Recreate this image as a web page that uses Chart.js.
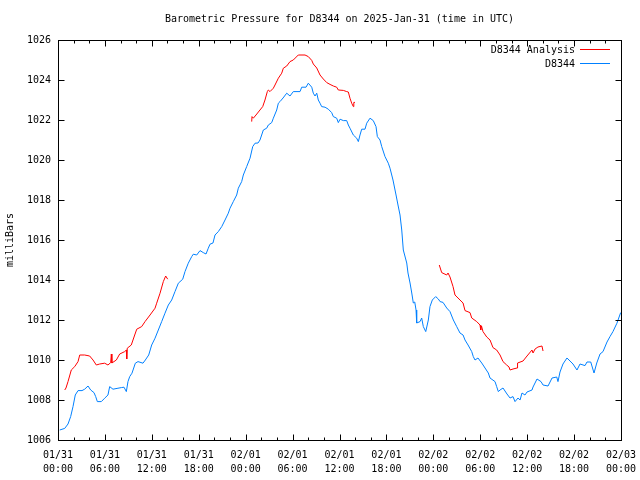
<!DOCTYPE html>
<html>
<head>
<meta charset="utf-8">
<script src="https://cdn.jsdelivr.net/npm/chart.js@4/dist/chart.umd.min.js"></script>
<style>
  html, body { margin: 0; padding: 0; background: #ffffff; }
  #wrap { width: 640px; height: 480px; position: relative; }
</style>
</head>
<body>
<div id="wrap"><canvas id="c" width="640" height="480"></canvas></div>
<script>
// ---------------- DATA (hours since 2025-01-31 00:00 UTC, pressure in mb) ----------------
const chartTitle = 'Barometric Pressure for D8344 on 2025-Jan-31 (time in UTC)';
const yAxisTitle = 'milliBars';
const seriesNames = ['D8344 Analysis', 'D8344'];

const xTickHours = [0, 6, 12, 18, 24, 30, 36, 42, 48, 54, 60, 66, 72];
const xTickDates = ['01/31','01/31','01/31','01/31','02/01','02/01','02/01','02/01','02/02','02/02','02/02','02/02','02/03'];
const xTickTimes = ['00:00','06:00','12:00','18:00','00:00','06:00','12:00','18:00','00:00','06:00','12:00','18:00','00:00'];
const yTickValues = [1006, 1008, 1010, 1012, 1014, 1016, 1018, 1020, 1022, 1024, 1026];

// D8344 observed
const obsHours = [0.22,0.86,1.28,1.62,1.92,2.21,2.56,3.07,3.41,3.84,4.18,4.60,4.82,5.03,5.54,5.97,6.39,6.61,7.03,7.55,8.10,8.44,8.74,8.95,9.17,9.46,9.89,10.23,10.87,11.17,11.60,11.98,12.41,12.83,13.26,13.68,14.11,14.54,14.96,15.39,15.95,16.24,16.66,17.10,17.30,17.74,18.16,18.58,18.93,19.22,19.44,19.82,20.08,20.50,20.94,21.36,21.78,22.00,22.42,22.85,23.06,23.49,23.70,24.13,24.56,24.90,25.20,25.58,25.83,26.26,26.69,26.90,27.33,27.54,27.97,28.18,28.39,28.78,29.25,29.67,30.09,30.95,31.17,31.72,32.01,32.45,32.65,32.87,33.09,33.29,33.51,33.72,34.15,34.57,35.00,35.21,35.64,35.85,36.07,36.49,36.92,37.13,37.34,37.77,38.20,38.41,38.62,38.84,39.26,39.48,39.90,40.32,40.67,40.84,41.18,41.40,41.82,42.24,42.46,42.84,43.23,43.48,43.74,43.96,44.16,44.60,44.76,45.02,45.24,45.44,45.62,45.79,45.87,46.30,46.51,46.72,47.03,47.36,47.57,47.87,48.30,48.64,48.86,49.24,49.71,50.13,50.56,50.99,51.41,51.80,52.05,52.44,52.91,53.11,53.33,53.71,54.19,54.61,55.03,55.25,55.89,56.10,56.31,56.53,56.91,57.42,57.81,58.19,58.45,58.83,59.09,59.34,59.72,59.98,60.62,60.75,61.26,61.77,62.03,62.67,63.18,63.78,63.94,64.20,64.58,65.09,65.48,65.86,66.37,66.76,67.40,67.65,68.13,68.55,68.90,69.32,69.70,70.21,70.59,70.97,71.48,71.96];
const obsMb = [1006.50,1006.58,1006.80,1007.17,1007.67,1008.25,1008.47,1008.47,1008.54,1008.70,1008.50,1008.37,1008.17,1007.92,1007.92,1008.09,1008.25,1008.67,1008.54,1008.58,1008.62,1008.64,1008.42,1008.92,1009.17,1009.34,1009.84,1009.92,1009.84,1010.00,1010.25,1010.75,1011.09,1011.50,1011.92,1012.34,1012.75,1013.00,1013.42,1013.84,1014.04,1014.42,1014.84,1015.17,1015.29,1015.25,1015.47,1015.37,1015.30,1015.59,1015.79,1015.85,1016.25,1016.42,1016.67,1017.00,1017.34,1017.59,1017.92,1018.25,1018.59,1018.92,1019.25,1019.67,1020.09,1020.67,1020.84,1020.85,1021.00,1021.50,1021.59,1021.75,1021.87,1022.09,1022.50,1022.84,1022.92,1023.10,1023.34,1023.20,1023.42,1023.42,1023.64,1023.64,1023.84,1023.64,1023.34,1023.20,1023.34,1023.00,1022.84,1022.67,1022.64,1022.54,1022.37,1022.17,1022.09,1021.87,1022.04,1021.97,1021.97,1021.75,1021.59,1021.25,1021.09,1020.92,1021.25,1021.54,1021.54,1021.84,1022.09,1021.97,1021.67,1021.17,1021.00,1020.67,1020.17,1019.84,1019.59,1019.00,1018.25,1017.75,1017.25,1016.50,1015.50,1014.85,1014.35,1013.85,1013.35,1012.85,1012.90,1012.50,1011.85,1011.92,1012.10,1011.67,1011.42,1012.00,1012.67,1013.00,1013.17,1013.05,1012.92,1012.88,1012.60,1012.42,1012.00,1011.67,1011.35,1011.25,1011.00,1010.75,1010.42,1010.17,1010.00,1010.10,1009.85,1009.60,1009.35,1009.10,1008.92,1008.67,1008.42,1008.50,1008.60,1008.30,1008.10,1008.17,1007.92,1008.10,1008.00,1008.35,1008.25,1008.40,1008.50,1008.65,1009.05,1008.92,1008.75,1008.70,1009.10,1009.15,1008.92,1009.40,1009.80,1010.10,1009.95,1009.80,1009.50,1009.80,1009.72,1009.90,1009.90,1009.35,1009.85,1010.30,1010.42,1010.90,1011.17,1011.42,1011.84,1012.37];

// D8344 Analysis (three separate runs)
const anaHours1 = [0.86,1.02,1.28,1.70,2.14,2.56,2.78,3.41,4.05,4.48,4.90,5.33,5.97,6.39,6.74,6.82,6.89,7.46,7.89,8.53,8.74,8.79,8.86,9.37,9.81,10.07,10.70,11.13,11.77,12.41,12.62,13.05,13.47,13.77,14.03];
const anaMb1 = [1008.50,1008.60,1008.92,1009.50,1009.67,1009.92,1010.25,1010.25,1010.20,1010.00,1009.75,1009.80,1009.84,1009.75,1009.87,1010.30,1009.85,1010.00,1010.30,1010.42,1010.50,1010.05,1010.59,1010.75,1011.25,1011.54,1011.67,1011.92,1012.25,1012.59,1012.84,1013.34,1013.92,1014.20,1014.04];
const anaHours2 = [24.77,24.81,24.98,25.32,25.83,26.18,26.47,26.77,26.90,27.11,27.54,27.75,28.18,28.61,28.82,29.25,29.67,30.09,30.73,31.59,32.01,32.45,32.65,33.09,33.51,33.93,34.37,34.79,35.21,35.64,35.85,36.49,36.92,37.13,37.34,37.56,37.77,37.83,37.98];
const anaMb2 = [1021.92,1022.17,1022.09,1022.25,1022.50,1022.67,1023.00,1023.42,1023.50,1023.42,1023.59,1023.75,1024.09,1024.34,1024.59,1024.70,1024.92,1025.00,1025.25,1025.25,1025.17,1024.98,1024.80,1024.60,1024.25,1024.05,1023.87,1023.78,1023.70,1023.64,1023.50,1023.48,1023.42,1023.40,1023.09,1022.84,1022.67,1022.88,1022.88];
const anaHours3 = [48.76,49.07,49.71,49.88,50.13,50.52,50.77,51.41,51.80,52.05,52.69,52.91,53.55,53.97,54.06,54.16,54.35,54.83,55.25,55.63,56.10,56.53,56.91,57.38,57.68,57.81,58.19,58.70,58.77,59.47,59.98,60.62,60.75,61.01,61.38,61.89,62.03];
const anaMb3 = [1014.75,1014.37,1014.25,1014.35,1014.15,1013.67,1013.25,1013.00,1012.85,1012.47,1012.37,1012.10,1011.92,1011.75,1011.50,1011.70,1011.42,1011.15,1011.00,1010.62,1010.50,1010.25,1009.92,1009.75,1009.65,1009.50,1009.55,1009.60,1009.85,1009.95,1010.20,1010.50,1010.35,1010.55,1010.65,1010.70,1010.45];

// ---------------- BUILD ----------------
const FONT = "'DejaVu Sans Mono', 'Liberation Mono', monospace";
const RED = '#ff0000';
const BLUE = 'rgb(0,128,255)';

function pts(h, v) { return h.map((x, i) => ({ x: x, y: v[i] })); }
function gap(x) { return [{ x: x, y: null }]; }

const analysisData = pts(anaHours1, anaMb1)
  .concat(gap(19), pts(anaHours2, anaMb2), gap(43), pts(anaHours3, anaMb3));
const obsData = pts(obsHours, obsMb);

const framePlugin = {
  id: 'gnuframe',
  afterDatasetsDraw(chart) {
    const ctx = chart.ctx;
    const a = chart.chartArea;
    const xs = chart.scales.x, ys = chart.scales.y;
    const L = Math.round(a.left) + 0.5, R = Math.round(a.right) + 0.5;
    const T = Math.round(a.top) + 0.5, B = Math.round(a.bottom) + 0.5;
    ctx.save();
    ctx.strokeStyle = '#000';
    ctx.lineWidth = 1;
    ctx.beginPath();
    // x ticks: major every 6 h, minor every 2 h, inward on bottom and top
    for (let h = 0; h <= 72; h += 2) {
      const px = Math.round(xs.getPixelForValue(h)) + 0.5;
      const len = (h % 6 === 0) ? 6 : 3;
      ctx.moveTo(px, B); ctx.lineTo(px, B - len);
      ctx.moveTo(px, T); ctx.lineTo(px, T + len);
    }
    yTickValues.forEach(v => {
      const py = Math.round(ys.getPixelForValue(v)) + 0.5;
      ctx.moveTo(L, py); ctx.lineTo(L + 6, py);
      ctx.moveTo(R, py); ctx.lineTo(R - 6, py);
    });
    ctx.stroke();
    ctx.strokeRect(L, T, R - L, B - T);

    // title
    ctx.fillStyle = '#000';
    ctx.font = '10px ' + FONT;
    ctx.textAlign = 'center';
    ctx.textBaseline = 'middle';
    ctx.fillText(chartTitle, (a.left + a.right) / 2, 19);

    // legend (text then line sample, gnuplot style)
    const ds = chart.data.datasets;
    ctx.textAlign = 'right';
    ds.forEach((d, i) => {
      const y = 50 + i * 14;
      ctx.fillStyle = '#000';
      ctx.fillText(d.label, 575, y);
      ctx.strokeStyle = d.borderColor;
      ctx.beginPath();
      ctx.moveTo(580, Math.round(y) - 0.5);
      ctx.lineTo(610, Math.round(y) - 0.5);
      ctx.stroke();
    });
    ctx.restore();
  }
};

new Chart(document.getElementById('c'), {
  type: 'line',
  data: {
    datasets: [
      { label: seriesNames[0], data: analysisData, borderColor: RED, backgroundColor: RED,
        borderWidth: 1, pointRadius: 0, tension: 0, spanGaps: false, fill: false },
      { label: seriesNames[1], data: obsData, borderColor: BLUE, backgroundColor: BLUE,
        borderWidth: 1, pointRadius: 0, tension: 0, spanGaps: false, fill: false }
    ]
  },
  options: {
    responsive: false,
    animation: false,
    events: [],
    layout: { padding: { top: 40, right: 19, left: 0, bottom: 0 } },
    plugins: { legend: { display: false }, title: { display: false }, tooltip: { enabled: false } },
    scales: {
      x: {
        type: 'linear', min: 0, max: 72,
        afterBuildTicks: s => { s.ticks = xTickHours.map(v => ({ value: v })); },
        afterFit: s => { s.height = 40; s.paddingLeft = 0; s.paddingRight = 0; },
        grid: { display: false, drawTicks: false },
        border: { display: false },
        ticks: {
          autoSkip: false, maxRotation: 0, minRotation: 0, padding: 8,
          color: '#000', font: { family: FONT, size: 10, lineHeight: 1.4 },
          callback: (v) => { const i = xTickHours.indexOf(v); return i >= 0 ? [xTickDates[i], xTickTimes[i]] : ''; }
        }
      },
      y: {
        type: 'linear', min: 1006, max: 1026,
        afterBuildTicks: s => { s.ticks = yTickValues.map(v => ({ value: v })); },
        afterFit: s => { s.width = 58; s.paddingTop = 0; s.paddingBottom = 0; },
        grid: { display: false, drawTicks: false },
        border: { display: false },
        title: { display: true, text: yAxisTitle, color: '#000', padding: { top: 4, bottom: 0 },
                 font: { family: FONT, size: 10 } },
        ticks: { padding: 7, color: '#000', font: { family: FONT, size: 10 },
                 callback: v => String(v) }
      }
    }
  },
  plugins: [framePlugin]
});
</script>
</body>
</html>
